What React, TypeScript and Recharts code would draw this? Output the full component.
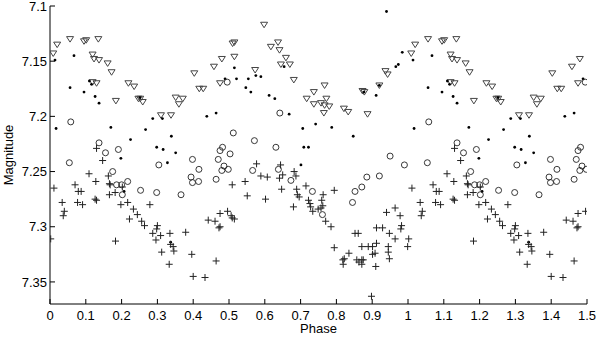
import { ScatterChart, Scatter, XAxis, YAxis } from "recharts"

const xTicks = [0, 0.1, 0.2, 0.3, 0.4, 0.5, 0.6, 0.7, 0.8, 0.9, 1, 1.1, 1.2, 1.3, 1.4, 1.5]
const yTicks = [7.1, 7.15, 7.2, 7.25, 7.3, 7.35]

// [phase, magnitude]
const triangles: [number, number][] = [
  [0.009, 7.143], [0.02, 7.135], [0.056, 7.13], [0.095, 7.132], [0.101, 7.131], [0.135, 7.13],
  [0.119, 7.144], [0.123, 7.148], [0.137, 7.149], [0.161, 7.152], [0.172, 7.16], [0.13, 7.17],
  [0.119, 7.169], [0.184, 7.186], [0.219, 7.17], [0.235, 7.173], [0.247, 7.184], [0.252, 7.184],
  [0.259, 7.187], [0.31, 7.199], [0.338, 7.199], [0.351, 7.183], [0.371, 7.184], [0.36, 7.189],
  [0.403, 7.161], [0.417, 7.175], [0.428, 7.175], [0.458, 7.155], [0.48, 7.148], [0.475, 7.17],
  [0.515, 7.133], [0.51, 7.134], [0.515, 7.146], [0.573, 7.158], [0.598, 7.117], [0.617, 7.137],
  [0.637, 7.133], [0.641, 7.14], [0.659, 7.147], [0.645, 7.153], [0.67, 7.153], [0.681, 7.167],
  [0.767, 7.172], [0.737, 7.178], [0.717, 7.184], [0.737, 7.189], [0.757, 7.188], [0.772, 7.184],
  [0.767, 7.19], [0.78, 7.191], [0.765, 7.197], [0.821, 7.193], [0.833, 7.196], [0.873, 7.177],
  [0.878, 7.178], [0.887, 7.198], [0.92, 7.172], [0.937, 7.159], [0.943, 7.162],
  [1.009, 7.143], [1.02, 7.135], [1.056, 7.13], [1.095, 7.132], [1.101, 7.131], [1.135, 7.13],
  [1.119, 7.144], [1.123, 7.148], [1.137, 7.149], [1.161, 7.152], [1.172, 7.16], [1.13, 7.17],
  [1.119, 7.169], [1.184, 7.186], [1.219, 7.17], [1.235, 7.173], [1.247, 7.184], [1.252, 7.184],
  [1.259, 7.187], [1.31, 7.199], [1.338, 7.199], [1.351, 7.183], [1.371, 7.184], [1.36, 7.189],
  [1.403, 7.161], [1.417, 7.175], [1.428, 7.175], [1.458, 7.155], [1.48, 7.148], [1.475, 7.17],
]

const dots: [number, number][] = [
  [0.014, 7.149], [0.067, 7.145], [0.056, 7.174], [0.095, 7.178], [0.11, 7.168], [0.116, 7.171],
  [0.126, 7.182], [0.137, 7.188], [0.017, 7.211], [0.17, 7.21], [0.225, 7.221], [0.251, 7.183],
  [0.267, 7.212], [0.287, 7.202], [0.314, 7.202], [0.298, 7.228], [0.316, 7.23], [0.339, 7.218],
  [0.351, 7.233], [0.198, 7.238], [0.328, 7.242], [0.207, 7.268], [0.337, 7.314], [0.438, 7.2],
  [0.464, 7.197], [0.489, 7.166],
  [0.515, 7.156], [0.521, 7.166], [0.554, 7.166], [0.575, 7.163], [0.589, 7.164], [0.547, 7.174],
  [0.561, 7.178], [0.612, 7.181], [0.628, 7.184], [0.654, 7.155], [0.668, 7.198], [0.706, 7.211],
  [0.742, 7.207], [0.787, 7.21], [0.847, 7.218], [0.709, 7.228], [0.722, 7.228], [0.877, 7.178],
  [0.911, 7.181], [0.92, 7.172], [0.94, 7.105], [0.966, 7.155], [0.973, 7.153], [0.984, 7.142],
  [0.701, 7.244],
  [1.014, 7.149], [1.067, 7.145], [1.056, 7.174], [1.095, 7.178], [1.11, 7.168], [1.116, 7.171],
  [1.126, 7.182], [1.137, 7.188], [1.017, 7.211], [1.17, 7.21], [1.225, 7.221], [1.251, 7.183],
  [1.267, 7.212], [1.287, 7.202], [1.314, 7.202], [1.298, 7.228], [1.316, 7.23], [1.339, 7.218],
  [1.351, 7.233], [1.198, 7.238], [1.328, 7.242], [1.207, 7.268], [1.337, 7.314], [1.438, 7.2],
  [1.464, 7.197], [1.489, 7.166],
]

const circles: [number, number][] = [
  [0.058, 7.205], [0.137, 7.224], [0.155, 7.233], [0.191, 7.23], [0.054, 7.242], [0.304, 7.244],
  [0.398, 7.239], [0.416, 7.248], [0.394, 7.255], [0.398, 7.26], [0.415, 7.259], [0.175, 7.25],
  [0.186, 7.262], [0.2, 7.262], [0.202, 7.271], [0.217, 7.259], [0.253, 7.267], [0.298, 7.269],
  [0.366, 7.271], [0.47, 7.239], [0.486, 7.245], [0.48, 7.249], [0.498, 7.248], [0.464, 7.257],
  [0.482, 7.228], [0.475, 7.231], [0.495, 7.169],
  [0.503, 7.234], [0.566, 7.249], [0.638, 7.248], [0.673, 7.258], [0.733, 7.268], [0.761, 7.289],
  [0.845, 7.278], [0.852, 7.268], [0.871, 7.264], [0.885, 7.255], [0.92, 7.254], [0.642, 7.197],
  [0.512, 7.215], [0.571, 7.222], [0.631, 7.228], [0.95, 7.236], [0.99, 7.244],
  [1.058, 7.205], [1.137, 7.224], [1.155, 7.233], [1.191, 7.23], [1.054, 7.242], [1.304, 7.244],
  [1.398, 7.239], [1.416, 7.248], [1.394, 7.255], [1.398, 7.26], [1.415, 7.259], [1.175, 7.25],
  [1.186, 7.262], [1.2, 7.262], [1.202, 7.271], [1.217, 7.259], [1.253, 7.267], [1.298, 7.269],
  [1.366, 7.271], [1.47, 7.239], [1.486, 7.245], [1.48, 7.249], [1.498, 7.248], [1.464, 7.257],
  [1.482, 7.228], [1.475, 7.231], [1.495, 7.169],
]

const pluses: [number, number][] = [
  [0.002, 7.311], [0.011, 7.265], [0.034, 7.278], [0.04, 7.286], [0.037, 7.29], [0.07, 7.262],
  [0.079, 7.268], [0.087, 7.268], [0.077, 7.278], [0.091, 7.28], [0.109, 7.252], [0.128, 7.259],
  [0.126, 7.275], [0.13, 7.276], [0.147, 7.24], [0.163, 7.254], [0.166, 7.261], [0.168, 7.262],
  [0.166, 7.271], [0.182, 7.269], [0.183, 7.313], [0.198, 7.28], [0.202, 7.264], [0.217, 7.278],
  [0.222, 7.293], [0.233, 7.284], [0.244, 7.289], [0.256, 7.295], [0.264, 7.299], [0.279, 7.28],
  [0.287, 7.306], [0.298, 7.302], [0.3, 7.299], [0.296, 7.312], [0.309, 7.308], [0.312, 7.323],
  [0.335, 7.306], [0.337, 7.316], [0.344, 7.318], [0.346, 7.322], [0.333, 7.334], [0.379, 7.305],
  [0.396, 7.325], [0.4, 7.345], [0.13, 7.229], [0.433, 7.346], [0.442, 7.294], [0.461, 7.295],
  [0.475, 7.288], [0.475, 7.3], [0.472, 7.301], [0.464, 7.331], [0.496, 7.286],
  [0.506, 7.29], [0.509, 7.292], [0.515, 7.293], [0.509, 7.262], [0.545, 7.259], [0.551, 7.272],
  [0.577, 7.243], [0.589, 7.254], [0.607, 7.255], [0.602, 7.275], [0.641, 7.256], [0.65, 7.253],
  [0.644, 7.244], [0.647, 7.266], [0.682, 7.25], [0.687, 7.254], [0.689, 7.266], [0.691, 7.271],
  [0.696, 7.273], [0.68, 7.282], [0.715, 7.263], [0.722, 7.276], [0.726, 7.279], [0.728, 7.282],
  [0.734, 7.286], [0.749, 7.284], [0.757, 7.283], [0.762, 7.281], [0.759, 7.276], [0.763, 7.271],
  [0.77, 7.295], [0.785, 7.3], [0.794, 7.267], [0.794, 7.319], [0.818, 7.33], [0.819, 7.334],
  [0.822, 7.329], [0.835, 7.324], [0.852, 7.306], [0.861, 7.306], [0.857, 7.33], [0.863, 7.332],
  [0.871, 7.33], [0.871, 7.334], [0.875, 7.33], [0.871, 7.318], [0.889, 7.318], [0.901, 7.318],
  [0.901, 7.325], [0.908, 7.324], [0.912, 7.315], [0.91, 7.336], [0.912, 7.301], [0.929, 7.301],
  [0.898, 7.363], [0.94, 7.287], [0.948, 7.306], [0.945, 7.318], [0.945, 7.323], [0.948, 7.329],
  [0.964, 7.283], [0.978, 7.29], [0.964, 7.311], [0.98, 7.302], [0.982, 7.299], [0.999, 7.318],
  [1.002, 7.311], [1.011, 7.265], [1.034, 7.278], [1.04, 7.286], [1.037, 7.29], [1.07, 7.262],
  [1.079, 7.268], [1.087, 7.268], [1.077, 7.278], [1.091, 7.28], [1.109, 7.252], [1.128, 7.259],
  [1.126, 7.275], [1.13, 7.276], [1.147, 7.24], [1.163, 7.254], [1.166, 7.261], [1.168, 7.262],
  [1.166, 7.271], [1.182, 7.269], [1.183, 7.313], [1.198, 7.28], [1.202, 7.264], [1.217, 7.278],
  [1.222, 7.293], [1.233, 7.284], [1.244, 7.289], [1.256, 7.295], [1.264, 7.299], [1.279, 7.28],
  [1.287, 7.306], [1.298, 7.302], [1.3, 7.299], [1.296, 7.312], [1.309, 7.308], [1.312, 7.323],
  [1.335, 7.306], [1.337, 7.316], [1.344, 7.318], [1.346, 7.322], [1.333, 7.334], [1.379, 7.305],
  [1.396, 7.325], [1.4, 7.345], [1.13, 7.229], [1.433, 7.346], [1.442, 7.294], [1.461, 7.295],
  [1.475, 7.288], [1.475, 7.3], [1.472, 7.301], [1.464, 7.331], [1.496, 7.286],
]

const toPoints = (rows: [number, number][]) => rows.map(([x, y]) => ({ x, y }))

const font = "'Liberation Sans', Arial, Helvetica, sans-serif"
const tickStyle = { fill: "#000", fontSize: 13, fontFamily: font }

const TriDown = (p: any) => {
  const { cx, cy } = p
  if (cx == null || cy == null) return null
  return (
    <polygon
      points={`${cx - 3.5},${cy - 2.5} ${cx + 3.5},${cy - 2.5} ${cx},${cy + 3}`}
      fill="none"
      stroke="#444"
      strokeWidth={1}
    />
  )
}

const Dot = (p: any) => {
  const { cx, cy } = p
  if (cx == null || cy == null) return null
  return <circle cx={cx} cy={cy} r={1.4} fill="#000" />
}

const Ring = (p: any) => {
  const { cx, cy } = p
  if (cx == null || cy == null) return null
  return <circle cx={cx} cy={cy} r={3} fill="none" stroke="#222" strokeWidth={0.9} />
}

const Plus = (p: any) => {
  const { cx, cy } = p
  if (cx == null || cy == null) return null
  return (
    <g stroke="#222" strokeWidth={1}>
      <line x1={cx - 3.5} y1={cy} x2={cx + 3.5} y2={cy} />
      <line x1={cx} y1={cy - 3.5} x2={cx} y2={cy + 3.5} />
    </g>
  )
}

export default function App() {
  return (
    <div>
      <style>{`body{margin:0;background:#fff}`}</style>
      <ScatterChart
        width={598}
        height={337}
        margin={{ top: 6, right: 11, bottom: 0, left: 0 }}
      >
        <XAxis
          dataKey="x"
          type="number"
          domain={[0, 1.5]}
          ticks={xTicks}
          interval={0}
          allowDataOverflow
          height={33}
          stroke="#000"
          tickSize={-5}
          tickMargin={12}
          tick={tickStyle}
          tickFormatter={(v: number) => String(v)}
          label={{ value: "Phase", position: "insideBottom", offset: 4, fill: "#000", fontSize: 13, fontFamily: font }}
        />
        <XAxis
          xAxisId="top"
          orientation="top"
          dataKey="x"
          type="number"
          domain={[0, 1.5]}
          ticks={xTicks}
          interval={0}
          allowDataOverflow
          height={0}
          stroke="#000"
          tickSize={-5}
          tickFormatter={() => ""}
        />
        <YAxis
          dataKey="y"
          type="number"
          domain={[7.1, 7.37]}
          reversed
          ticks={yTicks}
          interval={0}
          allowDataOverflow
          width={50}
          stroke="#000"
          tickSize={-5}
          tickMargin={8}
          tick={tickStyle}
          tickFormatter={(v: number) => String(v)}
          label={{
            value: "Magnitude",
            angle: -90,
            position: "insideLeft",
            offset: 8,
            fill: "#000",
            fontSize: 13,
            fontFamily: font,
            style: { textAnchor: "middle" },
          }}
        />
        <YAxis
          yAxisId="right"
          orientation="right"
          dataKey="y"
          type="number"
          domain={[7.1, 7.37]}
          reversed
          ticks={yTicks}
          interval={0}
          allowDataOverflow
          width={0}
          stroke="#000"
          tickSize={-5}
          tickFormatter={() => ""}
        />
        <Scatter data={toPoints(triangles)} shape={TriDown} isAnimationActive={false} />
        <Scatter data={toPoints(dots)} shape={Dot} isAnimationActive={false} />
        <Scatter data={toPoints(circles)} shape={Ring} isAnimationActive={false} />
        <Scatter data={toPoints(pluses)} shape={Plus} isAnimationActive={false} />
      </ScatterChart>
    </div>
  )
}
